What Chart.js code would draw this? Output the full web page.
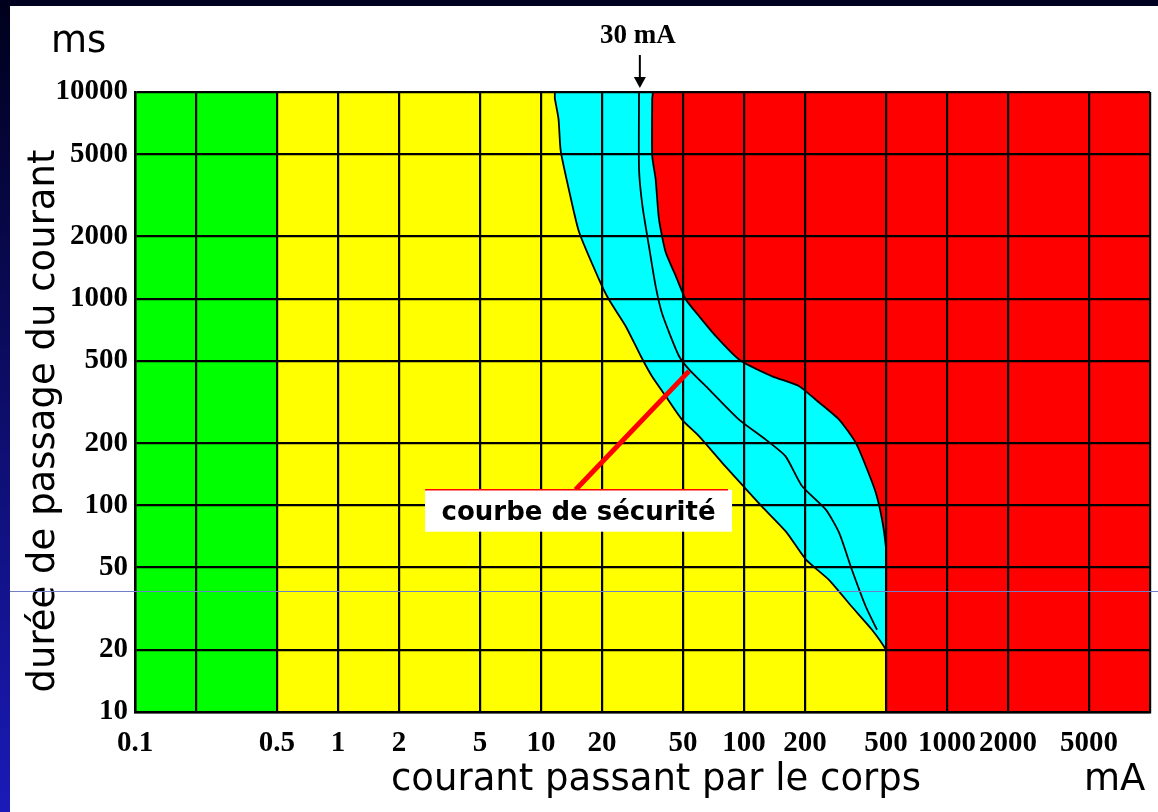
<!DOCTYPE html>
<html lang="fr">
<head>
    <meta charset="UTF-8">
    <title>Effets du courant alternatif sur le corps humain</title>
    <script src="https://cdn.jsdelivr.net/npm/chart.js"></script>
    <style>
        html, body { margin: 0; padding: 0; background: #fff; overflow: hidden; }
        #frame { position: relative; width: 1158px; height: 812px; background: #fff; }
        .band-top { position: absolute; left: 0; top: 0; width: 1158px; height: 6px; background: #000020; }
        .band-left { position: absolute; left: 0; top: 0; width: 10px; height: 812px; background: linear-gradient(#00001c, #1a1ab8); }
        .scanline { position: absolute; left: 10px; top: 591px; width: 1148px; height: 1px; background: #7080c8; z-index: 3; }
        #chartBox { position: absolute; left: 0; top: 0; width: 1158px; height: 812px; z-index: 2; }
    </style>
</head>
<body>
<div id="frame">
    <div class="band-top"></div>
    <div class="band-left"></div>
    <div id="chartBox"><canvas id="zonesChart"></canvas></div>
    <div class="scanline"></div>
</div>

<script>
    // axes (mA horizontally, ms vertically, both log)
    const xTickValues = [0.1, 0.2, 0.5, 1, 2, 5, 10, 20, 50, 100, 200, 500, 1000, 2000, 5000, 10000];
    const xTickLabels = ['0.1', '', '0.5', '1', '2', '5', '10', '20', '50', '100', '200', '500', '1000', '2000', '5000', ''];
    const yTickValues = [10, 20, 50, 100, 200, 500, 1000, 2000, 5000, 10000];
    const yTickLabels = ['10', '20', '50', '100', '200', '500', '1000', '2000', '5000', '10000'];

    // zone limits
    const greenLimit = 0.5;     // mA, seuil de perception
    const zoneEnd = 500;        // mA, courbes finissent ici

    // courbe b : limite jaune / cyan (courbe de sécurité)
    const curveBCurrent = [11.6, 11.7, 12.2, 12.5, 13.7, 15.4, 19.3, 21.6, 26.1, 31.0, 35.2, 41.1, 49.5, 60, 77.9, 97.7, 122.7, 161, 202, 262, 340, 427, 500, 500];
    const curveBTime    = [10000, 9300, 7400, 5200, 3390, 2100, 1240, 990, 738, 528, 421, 338, 260, 216, 161, 126, 98.6, 74.6, 54.6, 43.6, 32.3, 25, 20, 19];

    // courbe du milieu (30 mA)
    const curveMCurrent = [30.4, 30.4, 31.6, 34.0, 36.7, 39.6, 47.8, 53.6, 67.2, 94.5, 128, 160, 193, 253, 294, 340, 398, 452];
    const curveMTime    = [10000, 4240, 2810, 1800, 1150, 840, 528, 455, 364, 260, 208, 173, 124, 95.3, 73.7, 48.8, 32.4, 25];

    // courbe c : limite cyan / rouge
    const curveCCurrent = [35.3, 35.3, 35.3, 36.7, 38.1, 41.1, 46.1, 51.6, 60, 72.6, 94.5, 137, 187, 225, 294, 355, 398, 446, 479, 500, 500, 500];
    const curveCTime    = [10000, 9300, 4920, 3790, 2430, 1680, 1290, 993, 824, 659, 508, 422, 377, 325, 260, 201, 155, 115, 85, 63, 58, 20];

    // annotations
    const markerCurrent = 30;
    const markerText = '30 mA';
    const safetyText = 'courbe de sécurité';
    const safetyFrom = [14.8, 119];   // mA, ms
    const safetyTo = [53.6, 446];
    const xTitle = 'courant passant par le corps';
    const yTitle = 'durée de passage du courant';

    const xMin = 0.1, xMax = 10000, yMin = 10, yMax = 10000;

    function toPoints(xs, ys) {
        return xs.map((v, i) => ({ x: v, y: ys[i] }));
    }

    const greenZone = [{ x: xMin, y: yMax }, { x: greenLimit, y: yMax }];
    const yellowZone = [{ x: greenLimit, y: yMax }, ...toPoints(curveBCurrent, curveBTime), { x: zoneEnd, y: yMin }];
    const cyanZone = [{ x: greenLimit, y: yMax }, ...toPoints(curveCCurrent, curveCTime), { x: zoneEnd, y: yMin }];
    const redZone = [{ x: xMin, y: yMax }, { x: xMax, y: yMax }];

    const serifBold = { family: '"Liberation Serif", "Times New Roman", serif', weight: 'bold', size: 29 };
    const serifBoldX = { family: '"Liberation Serif", "Times New Roman", serif', weight: 'bold', size: 29, lineHeight: 1.6 };
    const sansFont = '"DejaVu Sans", Verdana, sans-serif';

    // texts drawn over the plot
    const annotations = {
        id: 'annotations',
        afterDraw(chart) {
            const { ctx, scales: { x, y }, chartArea } = chart;
            ctx.save();
            ctx.fillStyle = '#000';

            // unit and axis titles
            ctx.font = '37px ' + sansFont;
            ctx.textBaseline = 'alphabetic';
            ctx.textAlign = 'left';
            ctx.fillText('ms', 51, 52);
            ctx.fillText('mA', 1084, 790);
            ctx.textAlign = 'center';
            ctx.fillText(xTitle, 656, 790);
            ctx.save();
            ctx.translate(54, 421);
            ctx.rotate(-Math.PI / 2);
            ctx.fillText(yTitle, 0, 0);
            ctx.restore();

            // 30 mA arrow
            const mx = x.getPixelForValue(markerCurrent) + 2;
            ctx.font = 'bold 27px "Liberation Serif", serif';
            ctx.fillText(markerText, mx - 2, 43);
            ctx.strokeStyle = '#000';
            ctx.lineWidth = 2;
            ctx.beginPath();
            ctx.moveTo(mx, 55);
            ctx.lineTo(mx, 80);
            ctx.stroke();
            ctx.beginPath();
            ctx.moveTo(mx - 6, 77);
            ctx.lineTo(mx + 6, 77);
            ctx.lineTo(mx, chartArea.top - 4);
            ctx.closePath();
            ctx.fill();

            // courbe de sécurité label
            const ax = x.getPixelForValue(safetyFrom[0]), ay = y.getPixelForValue(safetyFrom[1]);
            const bx = x.getPixelForValue(safetyTo[0]), by = y.getPixelForValue(safetyTo[1]);
            ctx.strokeStyle = '#ff0000';
            ctx.lineWidth = 5;
            ctx.beginPath();
            ctx.moveTo(ax, ay);
            ctx.lineTo(bx, by);
            ctx.stroke();

            ctx.font = 'bold 26px ' + sansFont;
            const w = 307, h = 42, cx = ax + 3;
            ctx.fillStyle = '#fff';
            ctx.fillRect(cx - w / 2, ay, w, h);
            ctx.strokeStyle = '#ff0000';
            ctx.lineWidth = 1.5;
            ctx.beginPath();
            ctx.moveTo(cx - w / 2, ay);
            ctx.lineTo(cx + w / 2 - 4, ay);
            ctx.stroke();
            ctx.fillStyle = '#000';
            ctx.fillText(safetyText, cx, ay + 30);
            ctx.restore();
        }
    };

    const ctx = document.getElementById('zonesChart').getContext('2d');
    const zonesChart = new Chart(ctx, {
        type: 'line',
        data: {
            datasets: [
                {
                    label: 'courbe 30 mA',
                    data: toPoints(curveMCurrent, curveMTime),
                    borderColor: '#000',
                    borderWidth: 1.8,
                    fill: false,
                    tension: 0.2,
                    order: 0
                },
                {
                    label: 'zone 1',
                    data: greenZone,
                    borderWidth: 0,
                    backgroundColor: '#00ff00',
                    fill: 'start',
                    order: 1
                },
                {
                    label: 'zone 2',
                    data: yellowZone,
                    borderColor: '#000',
                    borderWidth: 1.8,
                    backgroundColor: '#ffff00',
                    fill: 'start',
                    tension: 0.2,
                    order: 2
                },
                {
                    label: 'zone 3',
                    data: cyanZone,
                    borderColor: '#000',
                    borderWidth: 1.8,
                    backgroundColor: '#00ffff',
                    fill: 'start',
                    tension: 0.2,
                    order: 3
                },
                {
                    label: 'zone 4',
                    data: redZone,
                    borderWidth: 0,
                    backgroundColor: '#ff0000',
                    fill: 'start',
                    order: 4
                }
            ]
        },
        options: {
            responsive: true,
            maintainAspectRatio: false,
            animation: false,
            layout: { padding: { top: 92, right: 7, left: 0, bottom: 0 } },
            elements: { point: { radius: 0, hoverRadius: 0 } },
            plugins: {
                legend: { display: false },
                tooltip: { enabled: false }
            },
            scales: {
                x: {
                    type: 'logarithmic',
                    min: xMin,
                    max: xMax,
                    afterBuildTicks: (axis) => { axis.ticks = xTickValues.map(v => ({ value: v })); },
                    afterFit: (axis) => { axis.height = 100; },
                    ticks: {
                        autoSkip: false,
                        maxRotation: 0,
                        padding: 8,
                        color: '#000',
                        font: serifBoldX,
                        callback: (value, index) => xTickLabels[index]
                    },
                    grid: { color: '#000', lineWidth: 2.2, drawTicks: false, z: 1 },
                    border: { color: '#000', width: 2.5, z: 1 }
                },
                y: {
                    type: 'logarithmic',
                    min: yMin,
                    max: yMax,
                    afterBuildTicks: (axis) => { axis.ticks = yTickValues.map(v => ({ value: v })); },
                    afterFit: (axis) => { axis.width = 135; },
                    ticks: {
                        autoSkip: false,
                        padding: 7,
                        color: '#000',
                        font: serifBold,
                        callback: (value, index) => yTickLabels[index]
                    },
                    grid: { color: '#000', lineWidth: 2.2, drawTicks: false, z: 1 },
                    border: { color: '#000', width: 2.5, z: 1 }
                }
            }
        },
        plugins: [annotations]
    });
</script>
</body>
</html>
